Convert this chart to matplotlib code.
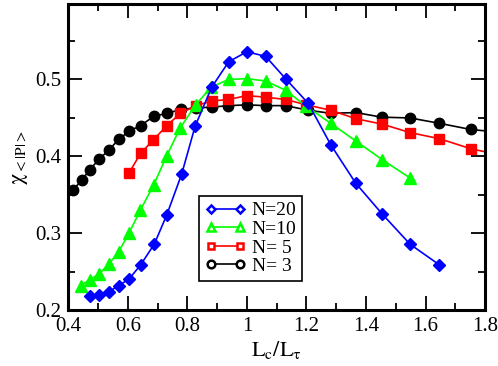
import matplotlib
matplotlib.use("Agg")
import matplotlib.pyplot as plt
from matplotlib.lines import Line2D
from matplotlib.ticker import MultipleLocator, FuncFormatter

plt.rcParams['font.family'] = ['Liberation Serif', 'DejaVu Serif']
plt.rcParams['mathtext.fontset'] = 'stix'

# N=20
x20 = [0.473, 0.503, 0.536, 0.569, 0.605, 0.643, 0.689, 0.731, 0.781, 0.826, 0.882,
       0.939, 1.0, 1.063, 1.13, 1.206, 1.282, 1.366, 1.455, 1.548, 1.647]
y20 = [0.219, 0.220, 0.224, 0.232, 0.241, 0.259, 0.286, 0.324, 0.377, 0.439, 0.490,
       0.523, 0.536, 0.530, 0.501, 0.469, 0.415, 0.365, 0.325, 0.286, 0.259]

# N=10
x10 = [0.442, 0.472, 0.503, 0.536, 0.569, 0.605, 0.642, 0.687, 0.731, 0.776, 0.828,
       0.88, 0.939, 1.0, 1.063, 1.13, 1.2, 1.282, 1.366, 1.454, 1.548]
y10 = [0.232, 0.240, 0.247, 0.260, 0.276, 0.301, 0.330, 0.363, 0.401, 0.437, 0.467,
       0.490, 0.500, 0.501, 0.498, 0.486, 0.465, 0.443, 0.420, 0.396, 0.372]

# N=5
x5 = [0.605, 0.643, 0.685, 0.731, 0.777, 0.829, 0.882, 0.938, 1.0, 1.063, 1.13,
      1.2, 1.282, 1.366, 1.454, 1.548, 1.647, 1.752, 1.86]
y5 = [0.379, 0.404, 0.421, 0.440, 0.456, 0.466, 0.472, 0.474, 0.479, 0.477, 0.474,
      0.467, 0.460, 0.449, 0.442, 0.431, 0.423, 0.410, 0.401]

# N=3
x3 = [0.415, 0.445, 0.473, 0.505, 0.536, 0.569, 0.605, 0.643, 0.687, 0.731, 0.778,
      0.828, 0.882, 0.938, 1.0, 1.063, 1.13, 1.206, 1.282, 1.366, 1.453, 1.548,
      1.647, 1.752, 1.86]
y3 = [0.356, 0.369, 0.383, 0.397, 0.408, 0.422, 0.433, 0.440, 0.452, 0.456, 0.461,
      0.463, 0.464, 0.466, 0.467, 0.466, 0.466, 0.460, 0.456, 0.457, 0.451, 0.450,
      0.443, 0.435, 0.431]

labels = ['N=20', 'N=10', 'N= 5', 'N= 3']

fig = plt.figure(figsize=(4.98, 3.66), dpi=100)
ax = fig.add_axes([0.137, 0.152, 0.837, 0.837])

ax.plot(x3, y3, '-o', color='black', lw=1.2, ms=7.5)
ax.plot(x5, y5, '-s', color='red', lw=1.2, ms=6.5)
ax.plot(x10, y10, '-^', color='#00ff00', lw=1.2, ms=8)
ax.plot(x20, y20, '-D', color='blue', lw=1.2, ms=6.3)

ax.set_xlim(0.4, 1.8)
ax.set_ylim(0.2, 0.598)
ax.xaxis.set_major_locator(MultipleLocator(0.2))
ax.xaxis.set_minor_locator(MultipleLocator(0.1))
ax.set_yticks([0.2, 0.3, 0.4, 0.5])
ax.yaxis.set_minor_locator(MultipleLocator(0.05))
ax.xaxis.set_major_formatter(FuncFormatter(lambda v, p: '%g' % round(v, 2)))
ax.yaxis.set_major_formatter(FuncFormatter(lambda v, p: '%g' % round(v, 2)))

ax.tick_params(which='both', direction='in', top=True, right=True, labelsize=15)
ax.tick_params(which='major', length=10, width=1.3, pad=5)
ax.tick_params(which='minor', length=5, width=1.3)
for s in ax.spines.values():
    s.set_linewidth(2.2)

ax.set_xlabel(r'$\mathrm{L_c/L_τ}$', fontsize=16, labelpad=2)
ax.set_ylabel(r'$\mathrm{χ_{<|P|>}}$', fontsize=16, labelpad=4)

handles = [
    Line2D([], [], color='blue', marker='D', ms=4.5, mfc='white', mew=1.8, lw=1.2),
    Line2D([], [], color='#00ff00', marker='^', ms=5.5, mfc='white', mew=1.8, lw=1.2),
    Line2D([], [], color='red', marker='s', ms=5, mfc='white', mew=1.8, lw=1.2),
    Line2D([], [], color='black', marker='o', ms=5.5, mfc='white', mew=1.8, lw=1.2),
]
leg = ax.legend(handles, labels, loc='lower left', bbox_to_anchor=(0.314, 0.096),
                numpoints=2, fontsize=14, fancybox=False, framealpha=1,
                edgecolor='black', handlelength=2.1, handletextpad=0.3,
                borderpad=0.3, labelspacing=0.05, borderaxespad=0)
leg.get_frame().set_linewidth(1.2)

plt.savefig('out.png', dpi=100)
